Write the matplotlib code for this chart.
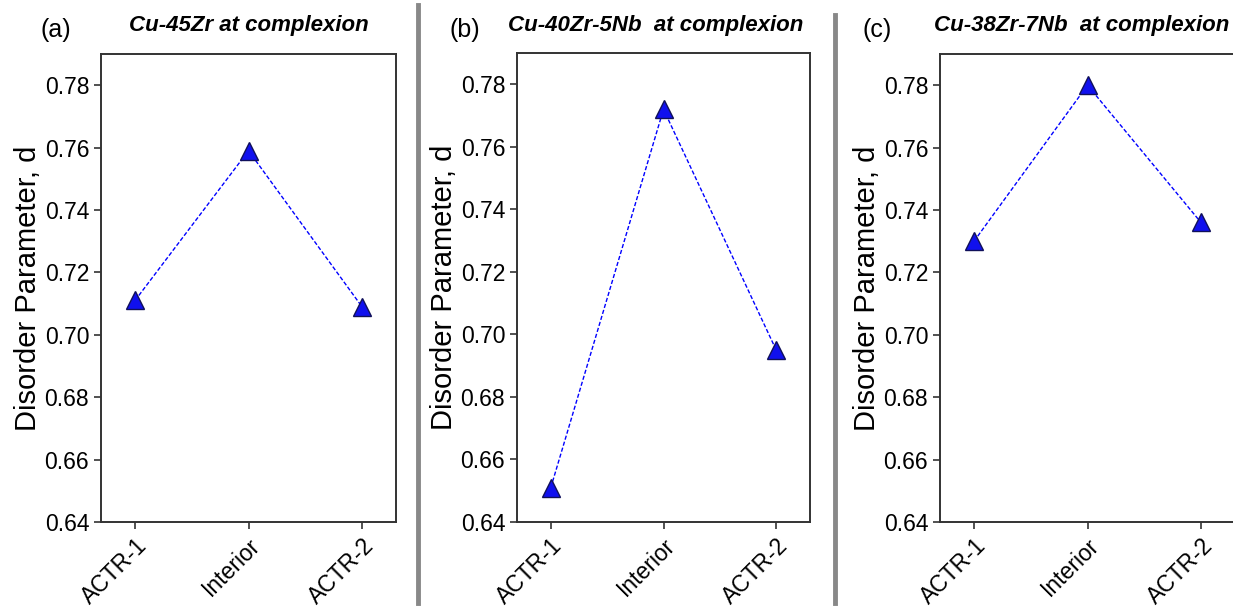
import matplotlib.pyplot as plt
from matplotlib.lines import Line2D

plt.rcParams['font.family'] = ['Liberation Sans', 'DejaVu Sans']

# data
sites = ['ACTR-1', 'Interior', 'ACTR-2']
cu45zr = [0.711, 0.759, 0.709]
cu40zr5nb = [0.651, 0.772, 0.695]
cu38zr7nb = [0.730, 0.780, 0.736]
titles = ['Cu-45Zr at complexion', 'Cu-40Zr-5Nb  at complexion', 'Cu-38Zr-7Nb  at complexion']
tags = ['(a)', '(b)', '(c)']
yticks = [0.64, 0.66, 0.68, 0.70, 0.72, 0.74, 0.76, 0.78]

W, H = 1233, 609
fig = plt.figure(figsize=(W / 100, H / 100), dpi=100)

# axes boxes in pixels (left, right, top, bottom)
boxes = [(101, 396, 54, 522), (517, 810, 53, 522), (940, 1235, 54, 522)]
title_x = [249, 656, 1082]
tag_x = [56, 465, 877]

for i, vals in enumerate([cu45zr, cu40zr5nb, cu38zr7nb]):
    l, r, t, b = boxes[i]
    ax = fig.add_axes([l / W, 1 - b / H, (r - l) / W, (b - t) / H])
    ax.plot(range(len(sites)), vals, linestyle=(0, (3, 1.5)), color='blue', lw=1,
            marker='^', markersize=13, markerfacecolor='#1010ee',
            markeredgecolor='#10105a', markeredgewidth=1)
    ax.set_xlim(-0.3, 2.3)
    ax.set_ylim(0.64, 0.79)
    ax.set_yticks(yticks)
    ax.set_yticklabels(['%.2f' % v for v in yticks])
    ax.set_xticks(range(len(sites)))
    ax.set_xticklabels(sites, rotation=45, ha='right', rotation_mode='anchor')
    ax.tick_params(axis='y', labelsize=16.5, length=5, width=1.2, color='#333333')
    ax.tick_params(axis='x', labelsize=16.5, length=5, width=1.2, color='#333333')
    for s in ax.spines.values():
        s.set_linewidth(1.4)
        s.set_color('#333333')
    ax.set_ylabel('Disorder Parameter, d', fontsize=21, labelpad=2)
    fig.text(title_x[i] / W, 1 - 25 / H, titles[i], ha='center', va='center',
             fontsize=16, fontweight='bold', fontstyle='italic')
    fig.text(tag_x[i] / W, 1 - 30 / H, tags[i], ha='center', va='center', fontsize=18)

# grey separators between panels
for x0, y0 in [(418, 5), (835, 15)]:
    fig.add_artist(Line2D([x0 / W, x0 / W], [1 - y0 / H, 1 - 603 / H],
                          color='#888888', lw=3.5))

fig.savefig('out.png', dpi=100)
